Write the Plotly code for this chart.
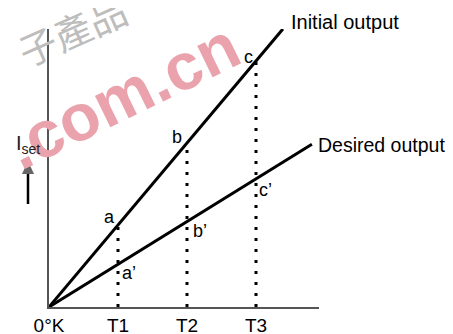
import plotly.graph_objects as go

# data (x in units of T1 spacing, y same scale)
temps = [0, 1, 2, 3]
tick_text = ["0°K", "T1", "T2", "T3"]
initial_x = [0, 1, 2, 3, 3.39]
initial_y = [0, 1.19, 2.38, 3.57, 4.03]
desired_x = [0, 1, 2, 3, 3.81]
desired_y = [0, 0.62, 1.24, 1.86, 2.36]
initial_labels = ["a", "b", "c"]
desired_labels = ["a’", "b’", "c’"]

# the page body adds an 8px margin, so the figure is laid out 8px in from the window
OFF = 8
W, H = 453 - OFF, 334 - OFF
# plot area edges, in window pixels
L, R, T, B = 49, 319, 29, 307
UNIT = 69.0
X_MAX = (R - L) / UNIT
Y_MAX = (B - T) / UNIT
FONT = "Liberation Sans, Arial, sans-serif"


# window pixel -> paper coordinates (for the free text and decorations)
def pap_x(px):
    return (px - L) / (R - L)


def pap_y(py):
    return (B - py) / (B - T)


fig = go.Figure()

# dotted drop lines from the initial-output points to the axis
for i in range(1, 4):
    fig.add_trace(go.Scatter(
        x=[temps[i], temps[i]], y=[0, initial_y[i]], mode="lines",
        line=dict(color="black", width=3, dash="3px,8px"),
        hoverinfo="skip", showlegend=False, cliponaxis=False,
    ))

fig.add_trace(go.Scatter(
    x=initial_x, y=initial_y, mode="lines", cliponaxis=False,
    line=dict(color="black", width=3), showlegend=False,
))
fig.add_trace(go.Scatter(
    x=desired_x, y=desired_y, mode="lines", cliponaxis=False,
    line=dict(color="black", width=3), showlegend=False,
))


def note(px, py, text, size, color="black", family=FONT, angle=0, xa="center"):
    return dict(xref="paper", yref="paper", x=pap_x(px), y=pap_y(py), text=text,
                textangle=angle, xanchor=xa, yanchor="middle", showarrow=False,
                font=dict(size=size, color=color, family=family))


ann = [
    # watermark
    note(122, 96, "<b>.com.cn</b>", 66, "#eaa2ac", angle=-26),
    note(72, 30, "子產品", 38, "#bdbdbd", "Noto Sans CJK TC", angle=-24),
]

# point labels
offs_init = [(-9, 8), (-10, 6), (-8, 4)]
offs_des = [(11, -9), (13, -10), (9, -11)]
for i in range(3):
    ann.append(dict(x=temps[i + 1], y=initial_y[i + 1], text=initial_labels[i],
                    xshift=offs_init[i][0], yshift=offs_init[i][1],
                    showarrow=False, font=dict(size=18, color="black", family=FONT)))
    ann.append(dict(x=temps[i + 1], y=desired_y[i + 1], text=desired_labels[i],
                    xshift=offs_des[i][0], yshift=offs_des[i][1],
                    showarrow=False, font=dict(size=18, color="black", family=FONT)))

ann.append(note(289, 22, "Initial output", 20, xa="left"))
ann.append(note(316, 145, "Desired output", 19.5, xa="left"))
ann.append(note(28, 144, "I<sub>set</sub>", 20, "#222"))

shapes = [
    # arrow shaft and head next to the y label
    dict(type="line", xref="paper", yref="paper", x0=pap_x(28), x1=pap_x(28),
         y0=pap_y(174), y1=pap_y(204), line=dict(color="black", width=2.5)),
    dict(type="path", xref="paper", yref="paper",
         path=f"M {pap_x(22)},{pap_y(174)} L {pap_x(34)},{pap_y(174)} L {pap_x(28)},{pap_y(161)} Z",
         fillcolor="#666", line=dict(width=0)),
]

fig.update_layout(
    width=W, height=H,
    margin=dict(l=L - OFF, r=W - (R - OFF), t=T - OFF, b=H - (B - OFF), autoexpand=False),
    paper_bgcolor="white", plot_bgcolor="white",
    annotations=ann, shapes=shapes,
    showlegend=False,
    xaxis=dict(range=[0, X_MAX], showgrid=False, zeroline=False, automargin=False,
               showline=True, linecolor="#555", linewidth=1.5,
               tickvals=temps, ticktext=tick_text, ticks="",
               tickfont=dict(size=19, color="black", family=FONT)),
    yaxis=dict(range=[0, Y_MAX], showgrid=False, zeroline=False, automargin=False,
               showline=True, linecolor="#555", linewidth=1.5,
               showticklabels=False, ticks=""),
)

fig.write_html("out.html")
